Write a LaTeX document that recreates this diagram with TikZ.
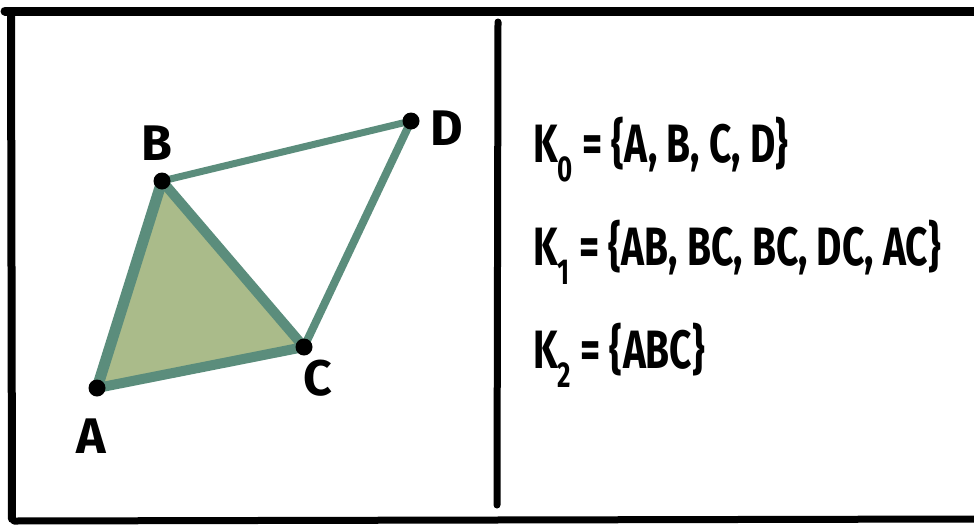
\documentclass[tikz,border=0pt]{standalone}
\usepackage{fontspec}
\setmainfont{Fira Sans}
\usetikzlibrary{positioning}
\definecolor{edgegreen}{HTML}{5B8D7C}
\definecolor{facegreen}{HTML}{AABB8A}

\begin{document}
\begin{tikzpicture}[
  x=1pt, y=-1pt,
  % Estilos del complejo
  vertex/.style={circle, fill=black, inner sep=0pt, minimum size=17pt},
  edge/.style={draw=edgegreen, line cap=round, line join=round},
  ptlabel/.style={font=\fontsize{50}{50}\selectfont\bfseries},
  setline/.style={anchor=west, inner sep=0pt, font=\fontsize{54}{56}\selectfont\bfseries},
  % Estilos del marco
  frame/.style={draw=black, line cap=round}
]
  \useasboundingbox (0,0) rectangle (974,525);

  % ==========================================
  % FRAME
  % ==========================================
  \draw[frame, line width=9pt] (5,11) -- (974,11);
  \draw[frame, line width=8pt] (11,14) -- (12,519);
  \draw[frame, line width=7pt] (14,521) -- (974,519);
  \draw[frame, line width=7pt] (498,22) -- (497,505);

  % ==========================================
  % SIMPLICIAL COMPLEX
  % ==========================================
  \coordinate (A) at (97,388);
  \coordinate (B) at (162,181);
  \coordinate (C) at (304,347);
  \coordinate (D) at (411,121);

  \fill[facegreen] (A) -- (B) -- (C) -- cycle;
  \draw[edge, line width=11pt] (A) -- (B);
  \draw[edge, line width=10pt] (B) -- (C);
  \draw[edge, line width=10pt] (C) -- (A);
  \draw[edge, line width=7pt] (B) -- (D);
  \draw[edge, line width=8pt] (D) -- (C);

  \foreach \p in {A,B,C,D}
    \node[vertex] (dot\p) at (\p) {};

  \node[ptlabel] (labA) at (91,436) {A};
  \node[ptlabel] (labB) at (157,143) {B};
  \node[ptlabel] (labC) at (318,378) {C};
  \node[ptlabel] (labD) at (447,128) {D};

  % ==========================================
  % SETS OF SIMPLICES
  % ==========================================
  \node[setline] (kzero) at (533,150) {\scalebox{0.72}[1]{K\raisebox{-0.35em}{\fontsize{36}{36}\selectfont 0} = \{A, B, C, D\}}};
  \node[setline] (kone) at (533,252) {\scalebox{0.72}[1]{K\raisebox{-0.35em}{\fontsize{36}{36}\selectfont 1} = \{AB, BC, BC, DC, AC\}}};
  \node[setline] (ktwo) at (533,355) {\scalebox{0.72}[1]{K\raisebox{-0.35em}{\fontsize{36}{36}\selectfont 2} = \{ABC\}}};

\end{tikzpicture}
\end{document}
